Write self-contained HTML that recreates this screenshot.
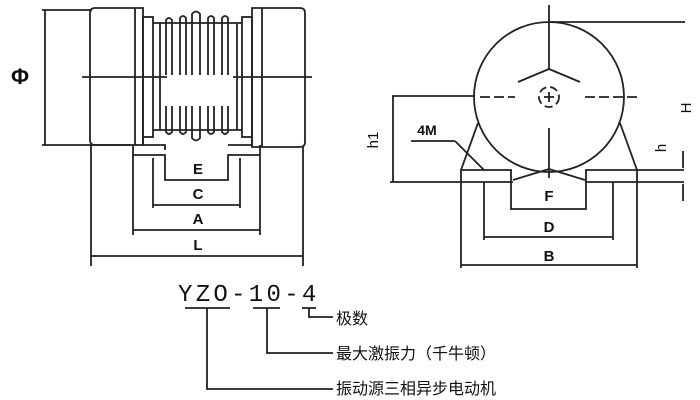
<!DOCTYPE html>
<html><head><meta charset="utf-8"><style>
html,body{margin:0;padding:0;background:#fff;width:700px;height:400px;overflow:hidden}
svg{display:block}
text{font-family:"Liberation Sans","Noto Sans CJK SC",sans-serif;fill:#111}
</style></head><body>
<svg width="700" height="400" viewBox="0 0 700 400" xmlns="http://www.w3.org/2000/svg">
<g stroke="#222" stroke-width="1.8" fill="none">
<line x1="42" y1="10" x2="92" y2="10"/>
<line x1="42" y1="145" x2="130" y2="145"/>
<line x1="45" y1="10" x2="45" y2="145"/>
<path d="M95 8 H143 V145 H95 Q90 145 90 140 V13 Q90 8 95 8Z"/>
<line x1="135" y1="8" x2="135" y2="145"/>
<path d="M252 8 H300 Q305 8 305 13 V142 Q305 147 300 147 H252Z"/>
<line x1="262" y1="8" x2="262" y2="147"/>
<rect x="143" y="17" width="10" height="120"/>
<rect x="242" y="17" width="10" height="120"/>
<line x1="153" y1="23" x2="242" y2="23"/>
<line x1="153" y1="130" x2="242" y2="130"/>
<line x1="160" y1="23" x2="160" y2="130"/>
<line x1="237" y1="23" x2="237" y2="130"/>
<path d="M166 75 V20 Q169 16 172 20 V75"/>
<path d="M180 75 V18 Q183 14 186 18 V75"/>
<path d="M192 75 V14 Q196 9 200 14 V75"/>
<path d="M208 75 V18 Q211 14 214 18 V75"/>
<path d="M222 75 V18 Q225 14 228 18 V75"/>
<path d="M166 106 V132 Q169 136 172 132 V106"/>
<path d="M180 106 V132 Q183 136 186 132 V106"/>
<path d="M192 106 V138 Q196 143 200 138 V106"/>
<path d="M208 106 V132 Q211 136 214 132 V106"/>
<path d="M222 106 V132 Q225 136 228 132 V106"/>
<line x1="82" y1="77" x2="167" y2="77"/>
<line x1="233" y1="77" x2="312" y2="77"/>
<path d="M133 145 V155 H165 V180 H228 V155 H260 V145"/>
<path d="M143 137 V145 H165 V150"/>
<path d="M252 137 V145 H228"/>
<line x1="153" y1="158" x2="153" y2="208"/><line x1="240" y1="158" x2="240" y2="208"/><line x1="153" y1="205" x2="240" y2="205"/>
<line x1="133" y1="155" x2="133" y2="235"/><line x1="260" y1="155" x2="260" y2="235"/><line x1="133" y1="230" x2="260" y2="230"/>
<line x1="91" y1="145" x2="91" y2="266"/><line x1="303" y1="147" x2="303" y2="266"/><line x1="91" y1="256" x2="303" y2="256"/>
<circle cx="549" cy="97" r="75"/>
<line x1="549" y1="5" x2="549" y2="69"/>
<line x1="549" y1="69" x2="518" y2="82"/><line x1="549" y1="69" x2="580" y2="82"/>
<line x1="549" y1="128" x2="549" y2="178"/>
<line x1="549" y1="22" x2="685" y2="22"/>
<line x1="480" y1="97" x2="515" y2="97" stroke-dasharray="10 4"/>
<line x1="585" y1="97" x2="637" y2="97" stroke-dasharray="10 4"/>
<circle cx="549" cy="97" r="10" stroke-dasharray="8 4"/>
<line x1="544" y1="97" x2="554" y2="97"/><line x1="549" y1="92" x2="549" y2="102"/>
<line x1="392" y1="96" x2="475" y2="96"/>
<line x1="393" y1="96" x2="393" y2="182"/>
<line x1="390" y1="182" x2="513" y2="182"/><line x1="585" y1="182" x2="684" y2="182"/>
<path d="M461 182 V170 H511 V209 H586 V170 H637 V182"/>
<line x1="637" y1="170" x2="684" y2="170"/>
<line x1="461" y1="170" x2="478" y2="123"/>
<line x1="637" y1="170" x2="620" y2="123"/>
<line x1="513" y1="180" x2="549" y2="169"/><line x1="585" y1="180" x2="549" y2="169"/>
<line x1="411" y1="141" x2="455" y2="141"/><line x1="455" y1="141" x2="484" y2="170"/>
<line x1="484" y1="182" x2="484" y2="240"/><line x1="613" y1="182" x2="613" y2="240"/><line x1="484" y1="237" x2="613" y2="237"/>
<line x1="461" y1="182" x2="461" y2="268"/><line x1="637" y1="182" x2="637" y2="268"/><line x1="461" y1="265" x2="637" y2="265"/>
<line x1="683" y1="151" x2="683" y2="168"/><line x1="683" y1="184" x2="683" y2="201"/>
<line x1="185" y1="308" x2="230" y2="308"/>
<path d="M207 308 V389 H333"/>
<line x1="253" y1="308" x2="280" y2="308"/>
<path d="M267 308 V353 H333"/>
<line x1="302" y1="308" x2="316" y2="308"/>
<path d="M309 308 V317 H333"/>
</g>
<g font-weight="bold" font-size="15">
<text x="20" y="84" text-anchor="middle" font-size="22">Φ</text>
<text x="198" y="174" text-anchor="middle">E</text>
<text x="198" y="199" text-anchor="middle">C</text>
<text x="198" y="224" text-anchor="middle">A</text>
<text x="198" y="250" text-anchor="middle">L</text>
<text x="549" y="201" text-anchor="middle">F</text>
<text x="549" y="232" text-anchor="middle">D</text>
<text x="549" y="261" text-anchor="middle">B</text>
<text x="427" y="135" text-anchor="middle" font-size="14">4M</text>
<text transform="translate(378,140) rotate(-90)" text-anchor="middle" font-weight="normal" font-size="15">h1</text>
<text transform="translate(691,108) rotate(-90)" text-anchor="middle" font-weight="normal" font-size="15">H</text>
<text transform="translate(666,148) rotate(-90)" text-anchor="middle" font-weight="normal" font-size="15">h</text>
</g>
<text x="178" y="301" font-size="24" letter-spacing="3.3" style="font-family:'Liberation Mono',monospace">YZO-10-4</text>
<text x="336" y="324" font-size="16">极数</text>
<text x="336" y="359" font-size="16">最大激振力（千牛顿）</text>
<text x="336" y="394" font-size="16">振动源三相异步电动机</text>
</svg>
</body></html>
